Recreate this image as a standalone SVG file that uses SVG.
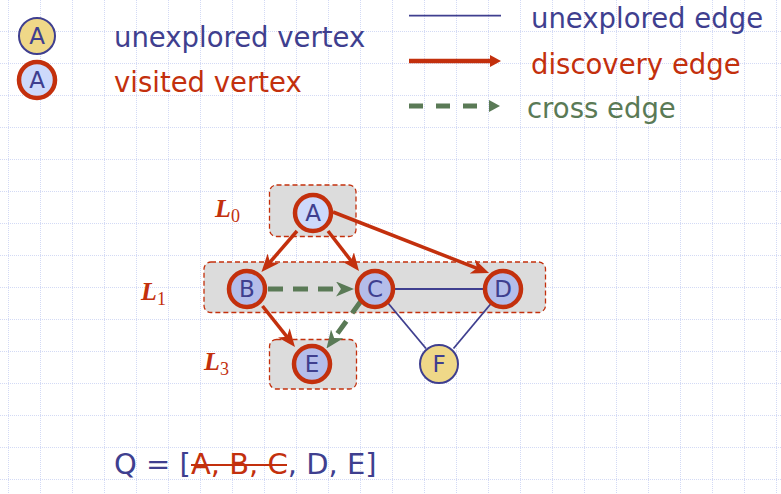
<svg xmlns="http://www.w3.org/2000/svg" width="781" height="494" viewBox="0 0 781 494">
<style>
.grid{stroke:#d3daf5;stroke-width:1;stroke-dasharray:1 1;fill:none}
.t{font-family:"DejaVu Sans","Liberation Sans",sans-serif}
.lg{font-size:27.5px}
.navy{fill:#3f3f8f}
.red{fill:#c3300d}
.green{fill:#5a7a56}
.box{fill:#dcdcdc;stroke:#c3300d;stroke-width:1.3;stroke-dasharray:5 3}
.vis{stroke:#c3300d;stroke-width:4.5}
.unx{stroke:#3f3f8f;stroke-width:2}
.lt{fill:#cdd9fb}
.md{fill:#b4bdea}
.yl{fill:#efd888}
.nl{font-family:"DejaVu Sans","Liberation Sans",sans-serif;font-size:23px;fill:#3f3f8f;text-anchor:middle}
.disc{stroke:#c3300d;stroke-width:3.5;fill:none}
.cross{stroke:#5a7a56;stroke-width:5;fill:none;stroke-dasharray:15 10}
.plain{stroke:#3f3f8f;stroke-width:1.8;fill:none}
.lab{font-family:"Liberation Serif","DejaVu Serif",serif;fill:#c3300d}
.L{font-size:26px;font-weight:bold;font-style:italic}
.sub{font-size:18px}
</style>
<defs>
<marker id="arrRed" markerUnits="userSpaceOnUse" markerWidth="18" markerHeight="15" refX="10" refY="7.5" orient="auto"><path d="M0,0 L18,7.5 L0,15 L5,7.5 Z" fill="#c3300d"/></marker>
<marker id="arrGreen" markerUnits="userSpaceOnUse" markerWidth="18" markerHeight="15" refX="10" refY="7.5" orient="auto"><path d="M0,0 L18,7.5 L0,15 L5,7.5 Z" fill="#5a7a56"/></marker>
<marker id="triRed" markerUnits="userSpaceOnUse" markerWidth="11" markerHeight="12" refX="3" refY="6" orient="auto"><path d="M0,0 L11,6 L0,12 Z" fill="#c3300d"/></marker>
<marker id="triGreen" markerUnits="userSpaceOnUse" markerWidth="11" markerHeight="12" refX="0" refY="6" orient="auto"><path d="M0,0 L11,6 L0,12 Z" fill="#5a7a56"/></marker>
</defs>
<rect width="781" height="494" fill="#ffffff"/>
<path class="grid" d="M8.5 0V494M40.5 0V494M72.5 0V494M104.5 0V494M136.5 0V494M168.5 0V494M200.5 0V494M232.5 0V494M264.5 0V494M296.5 0V494M328.5 0V494M360.5 0V494M392.5 0V494M424.5 0V494M456.5 0V494M488.5 0V494M520.5 0V494M552.5 0V494M584.5 0V494M616.5 0V494M648.5 0V494M680.5 0V494M712.5 0V494M744.5 0V494M776.5 0V494M0 31.5H781M0 63.5H781M0 95.5H781M0 127.5H781M0 159.5H781M0 191.5H781M0 223.5H781M0 255.5H781M0 287.5H781M0 319.5H781M0 351.5H781M0 383.5H781M0 415.5H781M0 447.5H781M0 479.5H781"/>

<g id="legend">
<g id="legend-unexplored-vertex">
<circle cx="37" cy="36" r="18" class="yl unx"/>
<text x="37" y="44" class="nl">A</text>
</g>
<g id="legend-visited-vertex">
<circle cx="37" cy="80" r="18" class="lt vis"/>
<text x="37" y="88" class="nl">A</text>
</g>
<text x="114" y="47" class="t lg navy">unexplored vertex</text>
<text x="114" y="92" class="t lg red">visited vertex</text>
<line x1="409" y1="15.7" x2="501" y2="15.7" stroke="#3f3f8f" stroke-width="1.8"/>
<line x1="409" y1="61" x2="493" y2="61" stroke="#c3300d" stroke-width="4.5" marker-end="url(#triRed)"/>
<line x1="409" y1="106" x2="489" y2="106" stroke="#5a7a56" stroke-width="5" stroke-dasharray="14 13" marker-end="url(#triGreen)"/>
<text x="531" y="28" class="t lg navy">unexplored edge</text>
<text x="531" y="74" class="t lg red">discovery edge</text>
<text x="527" y="118" class="t lg green">cross edge</text>
</g>

<g id="levels">
<rect id="box-L0" x="269.5" y="185" width="86.5" height="51.5" rx="7" class="box"/>
<rect id="box-L1" x="204" y="262" width="341.5" height="50.5" rx="7" class="box"/>
<rect id="box-L3" x="269.5" y="339.5" width="87" height="49.5" rx="7" class="box"/>
<text x="215" y="217" class="lab"><tspan class="L">L</tspan><tspan class="sub" dy="5">0</tspan></text>
<text x="141" y="300" class="lab"><tspan class="L">L</tspan><tspan class="sub" dy="5">1</tspan></text>
<text x="204" y="370" class="lab"><tspan class="L">L</tspan><tspan class="sub" dy="5">3</tspan></text>
</g>

<g id="connectors">
<line class="plain" x1="395" y1="289" x2="484" y2="289"/>
<line class="plain" x1="388" y1="303" x2="426" y2="348.5"/>
<line class="plain" x1="491.5" y1="303" x2="453.5" y2="348.5"/>
<line class="disc" x1="297" y1="231" x2="266.7" y2="266" marker-end="url(#arrRed)"/>
<line class="disc" x1="328" y1="231" x2="354.1" y2="264.7" marker-end="url(#arrRed)"/>
<line class="disc" x1="333" y1="212" x2="481.6" y2="270.1" marker-end="url(#arrRed)"/>
<line class="disc" x1="262.5" y1="306" x2="290" y2="340.7" marker-end="url(#arrRed)"/>
<line class="cross" x1="268" y1="289" x2="346" y2="289" marker-end="url(#arrGreen)"/>
<line class="cross" x1="361" y1="301" x2="331.2" y2="342" stroke-dasharray="14 11" marker-end="url(#arrGreen)"/>
</g>

<g id="node-A"><circle cx="313" cy="213" r="18" class="lt vis"/><text x="313" y="221" class="nl">A</text></g>
<g id="node-B"><circle cx="247" cy="289" r="18" class="md vis"/><text x="247" y="297" class="nl">B</text></g>
<g id="node-C"><circle cx="375" cy="289" r="18" class="md vis"/><text x="375" y="297" class="nl">C</text></g>
<g id="node-D"><circle cx="503" cy="289" r="18" class="md vis"/><text x="503" y="297" class="nl">D</text></g>
<g id="node-E"><circle cx="312" cy="364" r="18" class="md vis"/><text x="312" y="372" class="nl">E</text></g>
<g id="node-F"><circle cx="439" cy="364" r="19" class="yl unx"/><text x="439" y="372" class="nl">F</text></g>

<g id="queue">
<text x="114" y="474" class="t navy" font-size="29">Q = [<tspan class="red">A, B, C</tspan>, D, E]</text>
<line x1="191" y1="465" x2="287" y2="465" stroke="#c3300d" stroke-width="2"/>
</g>
</svg>
